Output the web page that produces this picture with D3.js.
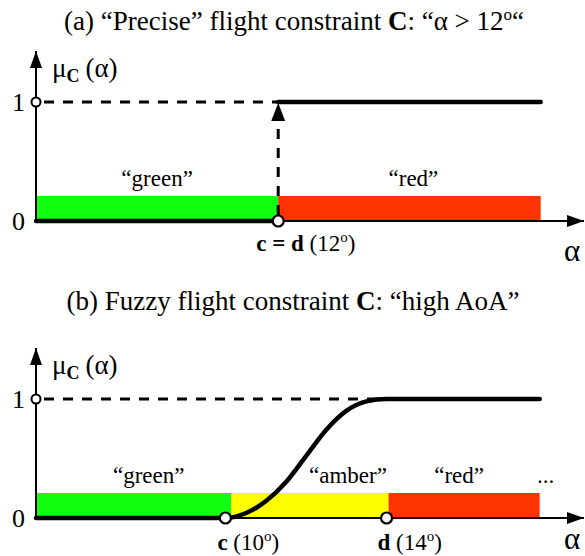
<!DOCTYPE html>
<html>
<head>
<meta charset="utf-8">
<script src="https://cdn.jsdelivr.net/npm/d3@7"></script>
<style>
  body { margin: 0; background: #fff; }
  svg { display: block; font-family: "Liberation Serif", "Times New Roman", serif; }
</style>
</head>
<body>
<svg id="chart" width="585" height="556"></svg>
<script>
// ---- (a) crisp constraint: alpha > 12 deg ----
const crispZoneLabels = ["“green”", "“red”"];
const crispZoneEdges = [4, 12, 20.67];          // degrees
const crispThreshold = 12;                      // c = d
const crispLowPart = [[4, 0], [12, 0]];
const crispHighPart = [[12, 1], [20.67, 1]];

// ---- (b) fuzzy constraint: "high AoA" ----
const fuzzyZoneLabels = ["“green”", "“amber”", "“red”"];
const fuzzyZoneEdges = [5.3, 10.15, 14.05, 17.8];  // degrees
const fuzzyC = 10;
const fuzzyD = 14;
const fuzzyAlpha = [5.3, 10, 10.5, 11,   11.5, 12,   12.5, 13,   13.5, 14, 17.8];
const fuzzyMu    = [0,   0,  0.04, 0.14, 0.30, 0.52, 0.74, 0.90, 0.98, 1,  1];

const membershipTicks = [0, 1];

const zoneColors = { "“green”": "#11ff11", "“amber”": "#ffff00", "“red”": "#ff3300" };
const FONT = '"Liberation Serif", "Times New Roman", serif';

const svg = d3.select("#chart");

// arrowhead marker for the axes
svg.append("defs").append("marker")
  .attr("id", "arrow")
  .attr("viewBox", "0 0 17 12")
  .attr("refX", 17).attr("refY", 6)
  .attr("markerWidth", 17).attr("markerHeight", 12)
  .attr("markerUnits", "userSpaceOnUse")
  .attr("orient", "auto")
  .append("path").attr("d", "M0,0 L17,6 L0,12 Z").attr("fill", "#000");

function drawPanel(opt) {
  const g = svg.append("g");
  const x = d3.scaleLinear().domain(opt.domain).range([36, 584]);
  const y = d3.scaleLinear().domain([0, 1]).range([opt.axisY, opt.axisY - 119]);

  // title
  const t = g.append("text")
    .attr("x", opt.titleX).attr("y", opt.titleY)
    .attr("text-anchor", "middle")
    .attr("font-size", 27);
  opt.title(t);

  // coloured zones
  const zones = opt.labels.map((l, i) => ({ label: l, from: opt.edges[i], to: opt.edges[i + 1], shift: opt.labelShift[i] }));
  g.selectAll("rect.zone").data(zones).join("rect")
    .attr("class", "zone")
    .attr("x", d => x(d.from))
    .attr("width", d => x(d.to) - x(d.from))
    .attr("y", opt.axisY - 25)
    .attr("height", 24)
    .attr("fill", d => zoneColors[d.label]);
  g.selectAll("text.zone").data(zones).join("text")
    .attr("class", "zone")
    .attr("x", d => (x(d.from) + x(d.to)) / 2 + d.shift)
    .attr("y", opt.axisY - 35)
    .attr("text-anchor", "middle")
    .attr("font-size", 23)
    .text(d => d.label);

  // y axis (ticks 0 and 1)
  const yAxis = d3.axisLeft(y).tickValues(membershipTicks).tickSize(0).tickPadding(11)
    .tickFormat(d3.format("d"));
  const ya = g.append("g").attr("transform", `translate(${x.range()[0]},0)`).call(yAxis);
  ya.select(".domain").remove();
  ya.selectAll(".tick text").attr("font-family", FONT).attr("font-size", 26).attr("fill", "#000");

  g.append("line")
    .attr("x1", x.range()[0]).attr("x2", x.range()[0])
    .attr("y1", opt.axisY + 1).attr("y2", opt.axisY - 170)
    .attr("stroke", "#000").attr("stroke-width", 2)
    .attr("marker-end", "url(#arrow)");

  // x axis
  g.append("line")
    .attr("x1", x.range()[0] - 1).attr("x2", x.range()[1])
    .attr("y1", opt.axisY).attr("y2", opt.axisY)
    .attr("stroke", "#000").attr("stroke-width", 2)
    .attr("marker-end", "url(#arrow)");

  // axis captions
  const mu = g.append("text").attr("x", 52).attr("y", opt.axisY - 144).attr("font-size", 27);
  mu.append("tspan").text("μ");
  mu.append("tspan").attr("font-size", 18).attr("font-weight", "bold").attr("dy", 5).text("C");
  mu.append("tspan").attr("dy", -5).attr("dx", 6).text("(α)");
  g.append("text").attr("x", 572).attr("y", opt.alphaY)
    .attr("text-anchor", "middle").attr("font-size", 31).text("α");

  // dashed reference at mu = 1
  g.append("line")
    .attr("x1", x.range()[0]).attr("x2", x(opt.dashEnd))
    .attr("y1", y(1)).attr("y2", y(1))
    .attr("stroke", "#000").attr("stroke-width", 3)
    .attr("stroke-dasharray", "10 9").attr("stroke-dashoffset", -8);

  opt.extra(g, x, y);

  // membership function
  const line = d3.line().x(d => x(d[0])).y(d => y(d[1])).curve(d3.curveMonotoneX);
  opt.curves.forEach(c => {
    g.append("path").attr("d", line(c))
      .attr("fill", "none").attr("stroke", "#000")
      .attr("stroke-width", 4.5).attr("stroke-linecap", "round").attr("stroke-linejoin", "round");
  });

  // open circles
  g.append("circle").attr("cx", x.range()[0]).attr("cy", y(1)).attr("r", 4.5)
    .attr("fill", "#fff").attr("stroke", "#000").attr("stroke-width", 2);
  g.selectAll("circle.pt").data(opt.points).join("circle")
    .attr("class", "pt")
    .attr("cx", d => x(d)).attr("cy", y(0)).attr("r", 5.5)
    .attr("fill", "#fff").attr("stroke", "#000").attr("stroke-width", 2.2);

  // point labels
  opt.pointLabels.forEach(p => {
    const tx = g.append("text").attr("x", x(p.value) + p.dx).attr("y", opt.axisY + opt.labelDy)
      .attr("font-size", 23);
    p.parts.forEach(part => {
      const s = tx.append("tspan").text(part.t);
      if (part.b) s.attr("font-weight", "bold");
      if (part.sup) s.attr("font-size", 15).attr("dy", -9);
      if (part.down) s.attr("dy", 9);
    });
  });
  return { g, x, y };
}

// (a) crisp
drawPanel({
  domain: [4, 22.1],
  axisY: 221,
  titleX: 294,
  titleY: 30,
  alphaY: 261,
  labelDy: 30,
  labelShift: [0, 4],
  title: t => {
    t.append("tspan").text("(a) “Precise” flight constraint ");
    t.append("tspan").attr("font-weight", "bold").text("C");
    t.append("tspan").text(": “α > 12");
    t.append("tspan").attr("font-size", 17).attr("dy", -10).text("o");
    t.append("tspan").attr("dy", 10).text("“");
  },
  labels: crispZoneLabels,
  edges: crispZoneEdges,
  dashEnd: crispThreshold,
  curves: [crispLowPart, crispHighPart],
  points: [crispThreshold],
  pointLabels: [{ value: crispThreshold, dx: -22, parts: [
    { t: "c", b: true }, { t: " = ", b: true }, { t: "d", b: true }, { t: " (12" },
    { t: "o", sup: true }, { t: ")", down: true }] }],
  extra: (g, x, y) => {
    // vertical dashed jump with arrow
    g.append("line")
      .attr("x1", x(crispThreshold)).attr("x2", x(crispThreshold))
      .attr("y1", y(0) - 6).attr("y2", y(1) + 18)
      .attr("stroke", "#000").attr("stroke-width", 3)
      .attr("stroke-dasharray", "10 9");
    g.append("path")
      .attr("d", d3.line()([[x(crispThreshold) - 7, y(1) + 19], [x(crispThreshold), y(1) + 1], [x(crispThreshold) + 7, y(1) + 19]]) + "Z")
      .attr("fill", "#000");
  }
});

// (b) fuzzy
const fuzzyCurve = fuzzyAlpha.map((a, i) => [a, fuzzyMu[i]]);
const pb = drawPanel({
  domain: [5.3, 18.9],
  axisY: 518,
  titleX: 293,
  titleY: 310,
  alphaY: 549,
  labelDy: 32,
  labelShift: [15, 38, -5],
  title: t => {
    t.append("tspan").text("(b) Fuzzy flight constraint ");
    t.append("tspan").attr("font-weight", "bold").text("C");
    t.append("tspan").text(": “high AoA”");
  },
  labels: fuzzyZoneLabels,
  edges: fuzzyZoneEdges,
  dashEnd: fuzzyD,
  curves: [fuzzyCurve],
  points: [fuzzyC, fuzzyD],
  pointLabels: [
    { value: fuzzyC, dx: -8, parts: [{ t: "c", b: true }, { t: " (10" }, { t: "o", sup: true }, { t: ")", down: true }] },
    { value: fuzzyD, dx: -9, parts: [{ t: "d", b: true }, { t: " (14" }, { t: "o", sup: true }, { t: ")", down: true }] }
  ],
  extra: () => {}
});
pb.g.append("text").attr("x", pb.x(17.8) + 6).attr("y", 518 - 35)
  .attr("text-anchor", "middle").attr("font-size", 23).text("...");
</script>
</body>
</html>
